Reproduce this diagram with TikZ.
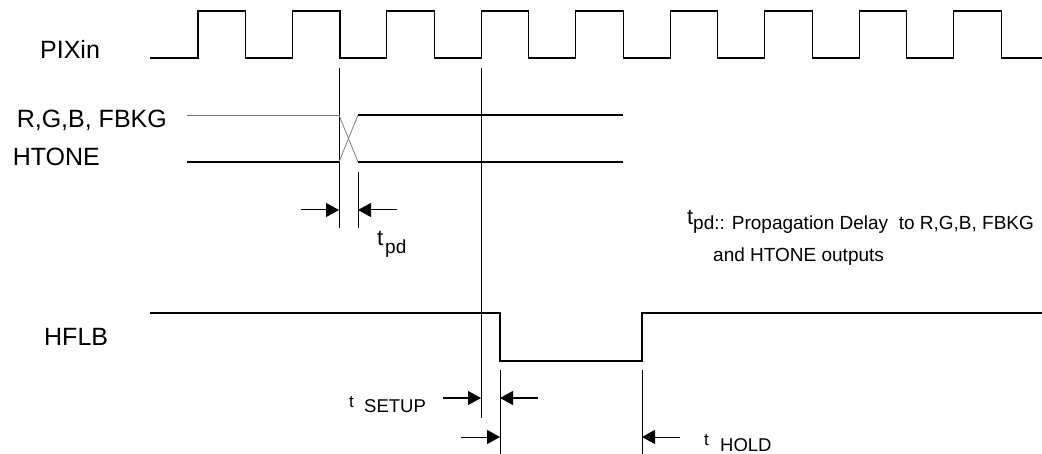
\documentclass[tikz,border=0pt]{standalone}
\usepackage{fontspec}
\setmainfont{Liberation Sans}
\usetikzlibrary{arrows.meta}
\begin{document}
\begin{tikzpicture}[x=1pt,y=-1pt,
  sig/.style={line width=1.1pt, line join=miter, draw=black},
  gline/.style={line width=0.7pt, draw=black!55},
  vmark/.style={line width=1pt, draw=black},
  dimarr/.style={-{Triangle[length=13pt,width=14pt]}, line width=1pt, draw=black},
  lbl/.style={anchor=base west, inner sep=0pt, font=\fontsize{25}{30}\selectfont},
  tbig/.style={anchor=base west, inner sep=0pt, font=\fontsize{22}{26}\selectfont},
  tsub/.style={anchor=base west, inner sep=0pt, font=\fontsize{19}{23}\selectfont},
  tsm/.style={anchor=base west, inner sep=0pt, font=\fontsize{17}{20}\selectfont},
]
\useasboundingbox (0,0) rectangle (1042,454);

% labels
\node[lbl] (lpix) at (40,59) {PIXin};
\node[lbl, anchor=base east] (lrgb) at (167,128) {R,G,B, FBKG};
\node[lbl, anchor=base east] (lht) at (100,166) {HTONE};
\node[lbl] (lhf) at (44,346) {HFLB};

% PIXin clock
\draw[sig] (150,58) foreach \k in {0,...,8} {
  -- ({198+94.45*\k},58) -- ({198+94.45*\k},11) -- ({245.5+94.45*\k},11) -- ({245.5+94.45*\k},58)
} -- (1042,58);

% reference verticals
\coordinate (v1t) at (339,68);  \coordinate (v1b) at (339,228);
\coordinate (v2t) at (358,172); \coordinate (v2b) at (358,228);
\coordinate (v3t) at (481,68);  \coordinate (v3b) at (481,418);
\draw[vmark] (v1t) -- (v1b);
\draw[vmark] (v2t) -- (v2b);
\draw[vmark] (v3t) -- (v3b);

% R,G,B / HTONE data lines
\coordinate (ua) at (187,115); \coordinate (ub) at (339,115);
\coordinate (uc) at (358,115); \coordinate (ud) at (623,115);
\coordinate (la) at (187,162); \coordinate (lb) at (339,162);
\coordinate (lc) at (358,162); \coordinate (ld) at (623,162);
\draw[gline] (ua) -- (ub);
\draw[sig] (la) -- (lb);
\draw[gline] (ub) -- (lc);
\draw[gline] (lb) -- (uc);
\draw[sig] (uc) -- (ud);
\draw[sig] (lc) -- (ld);

% tpd arrows
\coordinate (pa1) at (301,210); \coordinate (pa1e) at (339,210);
\coordinate (pa2) at (397,210); \coordinate (pa2e) at (358,210);
\draw[dimarr] (pa1) -- (pa1e);
\draw[dimarr] (pa2) -- (pa2e);
\node[tbig] (tpdt) at (377,246) {t};
\node[tsub] (tpds) at (385,254) {pd};

% description
\node[tbig] (dt) at (687,225) {t};
\node[tsub] (d1) at (693,230) {pd:: Propagation Delay\ \ to R,G,B, FBKG};
\node[tsub] (d2) at (713,262) {and HTONE outputs};

% HFLB
\draw[sig] (150,313) -- (500,313) -- (500,361) -- (642,361) -- (642,313) -- (1042,313);
\coordinate (h1t) at (500,370); \coordinate (h1b) at (500,454);
\coordinate (h2t) at (642,370); \coordinate (h2b) at (642,454);
\draw[vmark] (h1t) -- (h1b);
\draw[vmark] (h2t) -- (h2b);

% setup / hold arrows
\coordinate (s1) at (443,398); \coordinate (s1e) at (481,398);
\coordinate (s2) at (538,398); \coordinate (s2e) at (500,398);
\coordinate (s3) at (461,437); \coordinate (s3e) at (500,437);
\coordinate (s4) at (680,437); \coordinate (s4e) at (642,437);
\draw[dimarr] (s1) -- (s1e);
\draw[dimarr] (s2) -- (s2e);
\draw[dimarr] (s3) -- (s3e);
\draw[dimarr] (s4) -- (s4e);

\node[tsm] (st) at (349,407) {t};
\node[tsub, font=\fontsize{18.5}{22}\selectfont] (ss) at (364,413) {SETUP};
\node[tsm] (ht) at (704,445) {t};
\node[tsub, font=\fontsize{18.5}{22}\selectfont] (hs) at (720,451) {HOLD};
\end{tikzpicture}
\end{document}
